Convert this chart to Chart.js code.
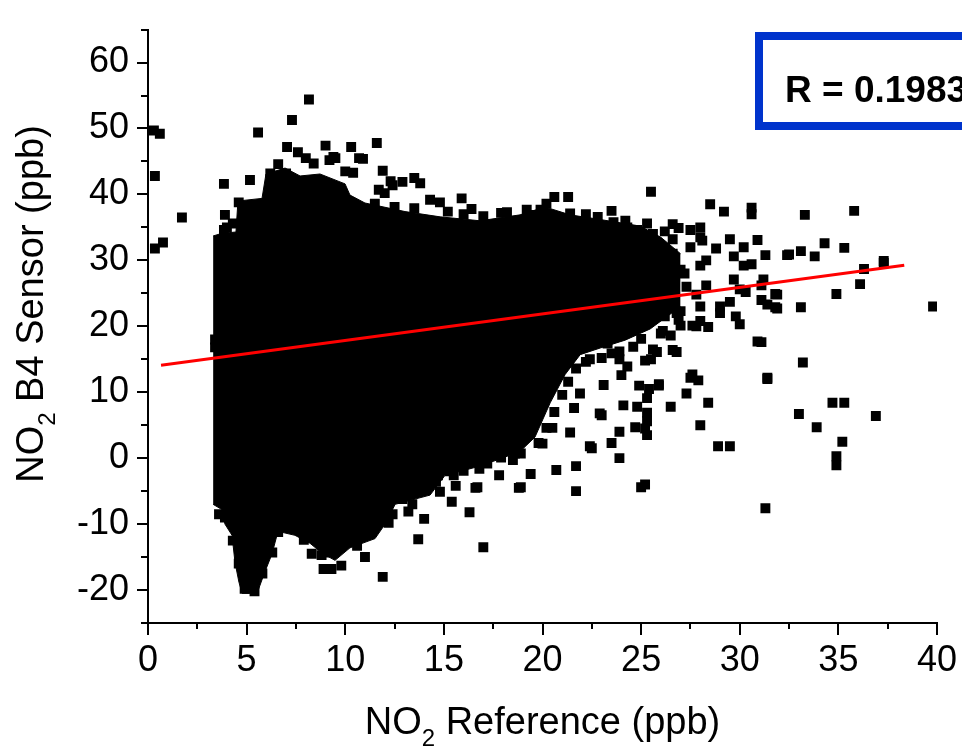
<!DOCTYPE html>
<html>
<head>
<meta charset="utf-8">
<script src="https://cdn.jsdelivr.net/npm/chart.js@4.4.1/dist/chart.umd.min.js"></script>
<style>
  html, body { margin: 0; padding: 0; background: #fff; }
  canvas { display: block; }
</style>
</head>
<body>
<canvas id="scatterChart" width="962" height="748"></canvas>
<script>
// axis ticks
const xMajorTicks = [0, 5, 10, 15, 20, 25, 30, 35, 40];
const xMinorTicks = [2.5, 7.5, 12.5, 17.5, 22.5, 27.5, 32.5, 37.5];
const yMajorTicks = [-20, -10, 0, 10, 20, 30, 40, 50, 60];
const yMinorTicks = [-25, -15, -5, 5, 15, 25, 35, 45, 55, 65];

// linear fit
const fitX = [0.66, 38.34];
const fitY = [14.1, 29.26];
const rValue = 'R = 0.1983';

// outline of the saturated core of the cloud (upper and lower edge)
const coreUpper = [
  [3.30, 33.7], [3.75, 34.1], [4.46, 34.3], [4.56, 39.0], [5.78, 39.4], [5.98, 43.1],
  [6.95, 44.0], [7.71, 42.8], [8.72, 43.1], [9.99, 41.6], [10.24, 39.9], [11.0, 38.7],
  [13.03, 37.4], [14.81, 36.6], [16.84, 36.0], [18.86, 36.9], [20.13, 38.1], [21.40, 36.9],
  [22.92, 36.2], [24.95, 35.2], [26.0, 33.5], [27.0, 31.0]
];
const coreLower = [
  [3.30, -7.0], [3.75, -7.8], [3.90, -10.0], [4.26, -11.7], [4.41, -15.8], [4.61, -18.8],
  [4.77, -20.5], [5.53, -20.5], [5.88, -17.6], [6.29, -14.5], [6.59, -11.1], [7.45, -11.7],
  [8.21, -12.9], [8.82, -14.4], [9.48, -15.5], [10.24, -13.6], [11.51, -12.2], [12.02, -10.0],
  [12.53, -7.0], [14.30, -5.6], [15.06, -2.6], [16.84, -1.2], [18.86, 1.0], [19.62, 3.2],
  [20.39, 8.4], [21.15, 12.7], [21.91, 15.7], [22.92, 16.7], [24.19, 17.9], [25.46, 19.6],
  [27.0, 23.0]
];

// single squares outside / on the edge of the core
const nearAxisPoints = [
  [0.3, 49.7], [0.6, 49.2], [0.35, 42.8], [1.72, 36.5], [0.35, 31.8], [0.76, 32.7]
];
const upperPoints = [
  [5.58, 49.4], [8.16, 54.4], [7.3, 51.3], [3.85, 41.6], [5.17, 42.2], [3.9, 36.9], [3.85, 34.6],
  [7.05, 47.2], [7.6, 46.4], [8.0, 45.5], [8.4, 44.7], [9.0, 47.4], [9.5, 45.5], [10.3, 47.2],
  [10.9, 45.4], [11.6, 47.8], [11.9, 43.6], [12.4, 41.4], [12.0, 40.2], [12.9, 41.9], [13.5, 42.5],
  [13.8, 41.7], [14.3, 39.2], [14.8, 38.8], [6.6, 44.6], [7.0, 43.2], [6.2, 43.2], [4.6, 38.8],
  [5.3, 38.4], [10.4, 43.3], [9.2, 45.2], [9.4, 45.7], [10.0, 43.5], [10.7, 45.5], [12.3, 42.0],
  [11.7, 40.7], [15.9, 39.4], [16.4, 37.8], [17.9, 37.2], [18.8, 35.5], [19.6, 36.9], [20.6, 39.6],
  [21.3, 39.6], [19.9, 37.7], [21.4, 37.1], [21.6, 35.2], [23.5, 37.5], [23.6, 35.8], [24.8, 34.6],
  [25.5, 40.4]
];
const edgePoints = [
  [4.0, 35.0], [4.3, 35.6], [11.5, 38.6], [12.5, 38.1], [13.5, 37.9], [15.2, 37.4], [16.0, 37.0],
  [17.0, 36.7], [18.2, 37.3], [19.2, 37.7], [20.2, 38.6], [22.2, 37.0], [22.8, 36.6], [24.2, 36.0],
  [25.3, 35.6], [26.2, 34.4], [26.6, 33.2], [14.6, -3.6], [15.3, -2.0], [16.0, -1.9], [17.2, -0.8],
  [17.9, 0.1], [18.5, -0.3], [19.8, 2.3], [20.2, 4.6], [20.6, 7.0], [21.0, 9.6], [21.3, 11.6],
  [21.7, 13.6], [22.2, 14.6], [23.0, 15.2], [23.5, 15.9], [24.6, 16.9], [25.0, 18.1], [26.0, 18.9],
  [26.9, 21.0], [27.3, 26.0], [27.2, 28.0], [26.4, 27.0], [7.9, -12.4], [10.6, -13.3], [12.9, -6.2],
  [3.6, -8.5], [3.4, 16.8], [3.4, 18.0]
];
const rightPoints = [
  [28.5, 38.5], [29.2, 37.4], [30.6, 38.0], [30.6, 37.0], [33.3, 36.9], [35.8, 37.5], [26.9, 34.9],
  [27.5, 34.6], [28.1, 33.0], [29.5, 33.2], [30.2, 32.0], [30.9, 33.1], [31.3, 30.8], [32.5, 30.9],
  [33.1, 31.4], [33.8, 30.6], [34.3, 32.6], [35.3, 31.9], [37.3, 29.9], [36.3, 28.7], [37.3, 29.6],
  [36.1, 26.4], [34.9, 24.9], [39.8, 23.0], [33.1, 22.9], [31.8, 24.9], [31.8, 22.9], [30.9, 17.7],
  [33.2, 14.5], [31.4, 12.0], [34.7, 8.4], [35.3, 8.4], [36.9, 6.4], [33.0, 6.7], [33.9, 4.7],
  [35.2, 2.5], [34.9, 0.3], [34.9, -1.1], [28.9, 1.8], [29.5, 1.8], [28.0, 5.0], [28.4, 8.4],
  [27.3, 9.8], [27.6, 12.7], [27.9, 11.8], [25.9, 11.0], [26.5, 7.8], [25.3, 9.1], [25.3, 6.9],
  [25.2, 4.5], [25.2, -4.0], [25.8, 16.1], [26.8, 16.1], [26.5, 18.6], [28.4, 19.9], [25.2, 14.8],
  [29.8, 21.5], [30.2, 29.2], [30.6, 29.4], [31.1, 26.2], [31.1, 24.0], [30.3, 25.2], [29.5, 23.7],
  [28.0, 23.0], [29.0, 23.0], [27.0, 22.3], [27.6, 20.1], [26.2, 21.5], [27.0, 20.1], [25.5, 26.7],
  [26.0, 25.2], [27.0, 28.6], [28.3, 26.2], [28.3, 30.0], [29.7, 27.1], [26.6, 31.0], [28.0, 29.2],
  [24.9, 30.8], [26.1, 28.2], [31.3, -7.6], [31.9, 24.8], [31.9, 22.7], [31.1, 17.6], [31.4, 12.2],
  [28.0, 35.0], [28.8, 31.8], [26.6, 35.5], [27.5, 32.0], [28.0, 33.5], [24.3, 35.0], [25.2, 31.8],
  [25.6, 34.0], [26.6, 30.0], [29.7, 30.6], [31.2, 27.1], [30.0, 25.6], [31.4, 23.3], [27.8, 24.8],
  [29.0, 22.0], [30.0, 20.3], [25.6, 24.8], [26.8, 22.0], [27.8, 20.0], [28.0, 20.8], [26.1, 19.3],
  [25.6, 16.5], [26.6, 16.4], [27.5, 12.2], [25.9, 11.2], [23.9, 16.2], [24.0, 12.6], [24.9, 11.0],
  [32.4, 30.8]
];
const lowerPoints = [
  [12.1, -7.6], [12.2, -9.8], [13.2, -8.1], [14.0, -9.2], [13.7, -12.3], [16.3, -8.2], [17.0, -13.5],
  [11.9, -18.0], [18.8, -4.5], [21.7, -5.0], [25.0, -4.4], [16.6, -4.5], [11.0, -15.0], [8.8, -14.7],
  [9.3, -16.8], [8.3, -14.5], [9.0, -14.3], [9.8, -16.3], [8.9, -16.8], [14.7, -2.6], [15.5, -2.6],
  [14.8, -5.1], [15.4, -6.6], [15.6, -4.2], [16.7, -4.4], [17.8, -2.6], [18.9, -4.4], [20.7, -1.8],
  [21.7, -1.2], [23.5, 2.3], [23.9, 0.0], [21.4, 3.9], [22.4, 1.8], [18.6, 0.7], [19.4, -2.4],
  [16.1, 1.0], [16.8, -1.6], [12.6, -4.5], [13.4, -7.0], [11.8, -6.0], [12.4, -8.5], [22.5, 1.5],
  [24.7, 4.7], [25.3, 3.5], [23.0, 6.5], [23.9, 4.0], [24.8, 7.8], [25.3, 5.6], [21.9, 9.8],
  [22.9, 6.8], [23.1, 11.1], [24.1, 8.0], [24.3, 13.9], [25.4, 10.5], [20.4, 11.5], [21.6, 7.6],
  [19.5, 8.0], [20.5, 4.6], [19.2, 6.6], [20.0, 2.2], [18.2, 5.7], [18.9, 0.7], [23.3, 17.4],
  [23.9, 15.0], [24.4, 19.3], [25.5, 15.0], [21.5, 18.9], [22.4, 15.0],
  [4.9, -19.8], [5.4, -20.2], [5.8, -17.5], [4.6, -16.0], [4.3, -12.5], [3.9, -9.0], [6.3, -14.3],
  [6.6, -11.2]
];

const FONT = "'Liberation Sans', Arial, sans-serif";
const toXY = arr => arr.map(p => ({ x: p[0], y: p[1] }));

// minor tick marks, axis titles and the R box
const decorPlugin = {
  id: 'decor',
  afterDraw(chart) {
    const ctx = chart.ctx;
    const xs = chart.scales.x, ys = chart.scales.y;
    const area = chart.chartArea;
    ctx.save();
    ctx.strokeStyle = '#000';
    ctx.lineWidth = 2;
    ctx.beginPath();
    xMinorTicks.forEach(v => {
      const px = Math.round(xs.getPixelForValue(v));
      ctx.moveTo(px, area.bottom);
      ctx.lineTo(px, area.bottom + 6);
    });
    yMinorTicks.forEach(v => {
      const py = Math.round(ys.getPixelForValue(v));
      ctx.moveTo(area.left - 7, py);
      ctx.lineTo(area.left, py);
    });
    ctx.stroke();

    // axis titles with subscript 2
    const drawTitle = (parts, cx, cy) => {
      const size = 38, sub = 24;
      let total = 0;
      parts.forEach(p => {
        ctx.font = (p.sub ? sub : size) + 'px ' + FONT;
        p.w = ctx.measureText(p.t).width;
        total += p.w;
      });
      let x = cx - total / 2;
      ctx.fillStyle = '#000';
      ctx.textBaseline = 'alphabetic';
      ctx.textAlign = 'left';
      parts.forEach(p => {
        ctx.font = (p.sub ? sub : size) + 'px ' + FONT;
        ctx.fillText(p.t, x, p.sub ? cy + 12 : cy);
        x += p.w;
      });
    };
    drawTitle([{ t: 'NO' }, { t: '2', sub: true }, { t: ' Reference (ppb)' }], (area.left + area.right) / 2, 734);
    ctx.save();
    ctx.translate(43, 304);
    ctx.rotate(-Math.PI / 2);
    drawTitle([{ t: 'NO' }, { t: '2', sub: true }, { t: ' B4 Sensor (ppb)' }], 0, 0);
    ctx.restore();

    // R box
    ctx.strokeStyle = 'rgb(0, 51, 204)';
    ctx.lineWidth = 8;
    ctx.strokeRect(759, 36, 300, 90);
    ctx.fillStyle = '#000';
    ctx.font = 'bold 37px ' + FONT;
    ctx.fillText(rValue, 785, 102);
    ctx.restore();
  }
};

const tickFont = { family: FONT, size: 36 };

new Chart(document.getElementById('scatterChart'), {
  type: 'scatter',
  data: {
    datasets: [
      {
        type: 'line',
        label: 'Linear fit',
        data: fitX.map((x, i) => ({ x: x, y: fitY[i] })),
        borderColor: '#ff0000',
        borderWidth: 3,
        pointRadius: 0,
        fill: false,
        order: 0
      },
      {
        label: 'NO2 B4',
        data: toXY([].concat(nearAxisPoints, upperPoints, edgePoints, rightPoints, lowerPoints)),
        pointStyle: 'rect',
        pointRadius: 7,
        backgroundColor: '#000',
        borderColor: '#000',
        borderWidth: 0,
        order: 1
      },
      {
        type: 'line',
        label: 'core upper',
        data: toXY(coreUpper),
        borderColor: '#000',
        backgroundColor: '#000',
        borderWidth: 1,
        pointRadius: 0,
        fill: 3,
        order: 2
      },
      {
        type: 'line',
        label: 'core lower',
        data: toXY(coreLower),
        borderColor: '#000',
        borderWidth: 1,
        pointRadius: 0,
        fill: false,
        order: 3
      }
    ]
  },
  options: {
    responsive: false,
    animation: false,
    devicePixelRatio: 1,
    layout: { padding: { top: 8, right: 25, left: 0, bottom: 0 } },
    plugins: { legend: { display: false }, tooltip: { enabled: false } },
    scales: {
      x: {
        type: 'linear',
        min: 0,
        max: 40,
        afterBuildTicks: s => { s.ticks = xMajorTicks.map(v => ({ value: v })); },
        afterFit: s => { s.height = 125; },
        ticks: { font: tickFont, color: '#000', padding: 4, maxRotation: 0, autoSkip: false },
        grid: { drawOnChartArea: false, drawTicks: true, tickLength: 12, color: '#000', lineWidth: 2 },
        border: { display: true, color: '#000', width: 2 }
      },
      y: {
        type: 'linear',
        min: -25,
        max: 65,
        afterBuildTicks: s => { s.ticks = yMajorTicks.map(v => ({ value: v })); },
        afterFit: s => { s.width = 148; },
        ticks: { font: tickFont, color: '#000', padding: 8, autoSkip: false },
        grid: { drawOnChartArea: false, drawTicks: true, tickLength: 11, color: '#000', lineWidth: 2 },
        border: { display: true, color: '#000', width: 2 }
      }
    }
  },
  plugins: [decorPlugin]
});
</script>
</body>
</html>
